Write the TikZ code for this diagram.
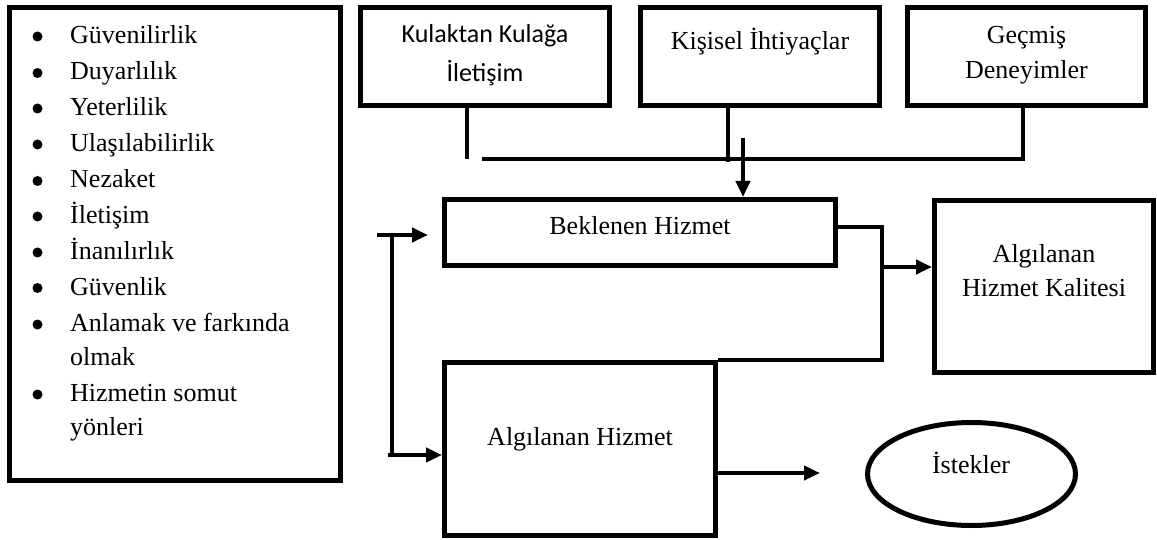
\documentclass[tikz,border=0pt]{standalone}
\usepackage{fontspec}
\setmainfont{Liberation Serif}
\newfontfamily\calfont{Carlito}
\usetikzlibrary{arrows.meta,shapes.geometric}
\begin{document}
\begin{tikzpicture}[x=1pt,y=-1pt,
  box/.style={draw, line width=5pt, inner sep=0pt},
  conn/.style={line width=4pt},
  arr/.style={conn, -{Triangle[length=16pt,width=14pt]}},
  txt/.style={anchor=base, inner sep=0pt, font=\fontsize{26}{30}\selectfont},
  item/.style={anchor=base west, inner sep=0pt, font=\fontsize{26}{30}\selectfont},
  bul/.style={circle, fill, inner sep=0pt, minimum size=10pt}]
\useasboundingbox[fill=white] (0,0) rectangle (1157,540);

% left list box
\node[box, minimum width=331pt, minimum height=472.5pt] (lst) at (175,243.75) {};
\foreach \t/\y [count=\i] in {Güvenilirlik/43.5, Duyarlılık/80, Yeterlilik/115.5, Ulaşılabilirlik/151.5, Nezaket/188, İletişim/223.5, İnanılırlık/259.5, Güvenlik/295, Anlamak ve farkında/331.5, Hizmetin somut/401.5}{
  \node[bul] (b\i) at (37.5,\y-7) {};
  \node[item] (it\i) at (70,\y) {\t};
}
\node[item] (it9b) at (70,365) {olmak};
\node[item] (it10b) at (70,435) {yönleri};

% top boxes
\node[box, minimum width=249pt, minimum height=98pt] (k) at (485,56.5) {};
\node[txt, font=\calfont\fontsize{26}{30}\selectfont] (k1) at (485,43) {Kulaktan Kulağa};
\node[txt, font=\calfont\fontsize{26}{30}\selectfont] (k2) at (485,82) {İletişim};

\node[box, minimum width=239pt, minimum height=98pt] (p) at (760,56.5) {};
\node[txt] (p1) at (760,50) {Kişisel İhtiyaçlar};

\node[box, minimum width=238pt, minimum height=98pt] (g) at (1026.5,56.5) {};
\node[txt] (g1) at (1026.5,43.5) {Geçmiş};
\node[txt] (g2) at (1026.5,78.5) {Deneyimler};

% middle boxes
\node[box, minimum width=391pt, minimum height=66pt] (e) at (640,232.5) {};
\node[txt] (e1) at (640,235) {Beklenen Hizmet};

\node[box, minimum width=271pt, minimum height=173pt] (a) at (580,449) {};
\node[txt] (a1) at (580,445) {Algılanan Hizmet};

\node[box, minimum width=219pt, minimum height=172pt] (q) at (1044,286.5) {};
\node[txt] (q1) at (1044,263) {Algılanan};
\node[txt] (q2) at (1044,297) {Hizmet Kalitesi};

\node[draw, ellipse, line width=5pt, inner sep=0pt, minimum width=208pt, minimum height=103pt] (s) at (971.5,474) {};
\node[txt] (s1) at (971,473) {İstekler};

% top connectors
\coordinate (jl) at (482,159.5);
\draw[conn] ([xshift=-18pt]k.south) -- ++(0,51.5);
\draw[conn] ([xshift=-32pt]p.south) -- ++(0,54);
\draw[conn] ([xshift=-3.5pt]g.south) |- (jl);
\draw[arr] (743,138) -- (e.north -| 743,0);

% left feedback
\coordinate (fb1) at (377,235);
\coordinate (fb2) at (388,455);
\draw[conn] (391.5,235) -- (391.5,455);
\draw[arr] (fb1) -- (428,235);
\draw[arr] (fb2) -- (a.west |- fb2);

% right connectors
\draw[conn] ([yshift=5.5pt]e.east) -- ++(44,0) |- (a.north east);
\draw[arr] (882,267) -- (q.west |- 0,267);
\draw[arr] (a.east |- 0,473) -- (820,473);
\end{tikzpicture}
\end{document}
